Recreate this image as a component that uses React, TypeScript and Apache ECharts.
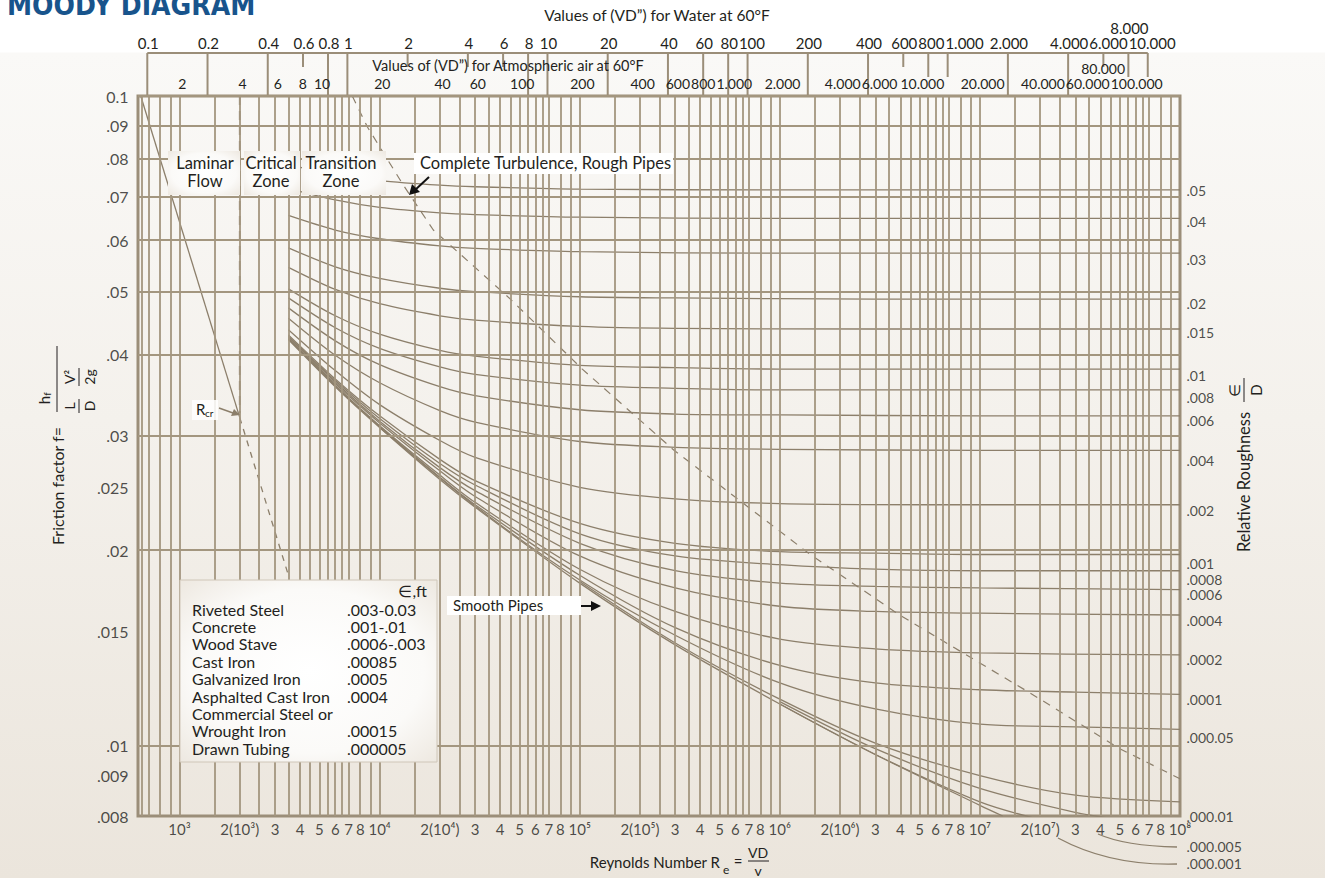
import React, { useEffect, useRef } from "react";
import * as echarts from "echarts";

// ---------- axis extents ----------
const RE_MIN = 620;
const RE_MAX = 1e8;
const F_MIN = 0.0078;
const F_MAX = 0.1;

// ---------- grid lines ----------
const xGridDecades = [100, 1e3, 1e4, 1e5, 1e6, 1e7];
const xGridMultipliers = [1, 1.5, 2, 2.5, 3, 3.5, 4, 4.5, 5, 5.5, 6, 6.5, 7, 8, 9];
const yGridValues = [
  0.095, 0.09, 0.085, 0.08, 0.075, 0.07, 0.065, 0.06, 0.058, 0.056, 0.054, 0.052, 0.05,
  0.048, 0.046, 0.044, 0.042, 0.04, 0.038, 0.036, 0.034, 0.032, 0.03, 0.029, 0.028, 0.027,
  0.026, 0.025, 0.024, 0.023, 0.022, 0.021, 0.02, 0.019, 0.018, 0.017, 0.016, 0.015, 0.014,
  0.013, 0.012, 0.011, 0.01, 0.0095, 0.009, 0.0085, 0.008,
];

// ---------- tick labels ----------
const yTickValues = [0.1, 0.09, 0.08, 0.07, 0.06, 0.05, 0.04, 0.03, 0.025, 0.02, 0.015, 0.01, 0.009, 0.0078];
const yTickLabels = ["0.1", ".09", ".08", ".07", ".06", ".05", ".04", ".03", ".025", ".02", ".015", ".01", ".009", ".008"];

const xTickValues = [
  1e3, 2e3, 3e3, 4e3, 5e3, 6e3, 7e3, 8e3,
  1e4, 2e4, 3e4, 4e4, 5e4, 6e4, 7e4, 8e4,
  1e5, 2e5, 3e5, 4e5, 5e5, 6e5, 7e5, 8e5,
  1e6, 2e6, 3e6, 4e6, 5e6, 6e6, 7e6, 8e6,
  1e7, 2e7, 3e7, 4e7, 5e7, 6e7, 7e7, 8e7, 1e8,
];
const xTickLabels = [
  "10³", "2(10³)", "3", "4", "5", "6", "7", "8",
  "10⁴", "2(10⁴)", "3", "4", "5", "6", "7", "8",
  "10⁵", "2(10⁵)", "3", "4", "5", "6", "7", "8",
  "10⁶", "2(10⁶)", "3", "4", "5", "6", "7", "8",
  "10⁷", "2(10⁷)", "3", "4", "5", "6", "7", "8", "10⁸",
];

const roughLabelValues = [
  0.0716, 0.0642, 0.0561, 0.048, 0.0433, 0.0372, 0.0344, 0.0317, 0.0275, 0.023,
  0.0191, 0.018, 0.0171, 0.0156, 0.0136, 0.0118, 0.0103, 0.0078, 0.007, 0.0066,
];
const roughLabels = [
  ".05", ".04", ".03", ".02", ".015", ".01", ".008", ".006", ".004", ".002",
  ".001", ".0008", ".0006", ".0004", ".0002", ".0001", ".000.05", ".000.01", ".000.005", ".000.001",
];

// ---------- top scales (VD") ----------
const WATER_RE_PER_VD = 6900;
const AIR_RE_PER_VD = 510;
const waterValues = [0.1, 0.2, 0.4, 0.6, 0.8, 1, 2, 4, 6, 8, 10, 20, 40, 60, 80, 100, 200, 400, 600, 800, 1000, 2000, 4000, 6000, 8000, 10000];
const waterLabels = ["0.1", "0.2", "0.4", "0.6", "0.8", "1", "2", "4", "6", "8", "10", "20", "40", "60", "80", "100", "200", "400", "600", "800", "1.000", "2.000", "4.000", "6.000", "8.000", "10.000"];
const waterShortTicks = [0.6, 2, 4, 6, 600, 6000];
const waterMidTicks = [800, 1000, 8000, 10000];
const airValues = [2, 4, 6, 8, 10, 20, 40, 60, 100, 200, 400, 600, 800, 1000, 2000, 4000, 6000, 10000, 20000, 40000, 60000, 80000, 100000];
const airLabels = ["2", "4", "6", "8", "10", "20", "40", "60", "100", "200", "400", "600", "800", "1.000", "2.000", "4.000", "6.000", "10.000", "20.000", "40.000", "60.000", "80.000", "100.000"];
const raisedLabels = ["8.000", "80.000"];

// ---------- curves: [Re, f] ----------
const laminarSolid = [[640, 0.1], [2000, 0.032]];
const laminarDashed = [[2000, 0.032], [3500, 0.0183]];
const criticalLine = [[2000, 0.1], [2000, 0.0325]];
const turbulenceBoundary = [
  [7300, 0.1], [8690, 0.0896], [13140, 0.0729], [18550, 0.0622], [4.5e4, 0.0487], [1.03e5, 0.038],
  [2.96e5, 0.0285], [1.42e6, 0.0197], [3.97e6, 0.0159], [1.83e7, 0.012], [5e7, 0.0099], [1e8, 0.0089],
];

const curve05 = [[3.5e3, 0.0784], [6e3, 0.0757], [1e4, 0.0741], [2e4, 0.0729], [3e4, 0.0725], [1e5, 0.0719], [1e6, 0.0717], [1e8, 0.0717]];
const curve04 = [[3.5e3, 0.0721], [6e3, 0.0692], [1e4, 0.0674], [2e4, 0.0661], [3e4, 0.0657], [1e5, 0.0651], [1e6, 0.0648], [1e8, 0.0648]];
const curve03 = [[3.5e3, 0.0655], [6e3, 0.0622], [1e4, 0.0603], [2e4, 0.0588], [3e4, 0.0583], [1e5, 0.0576], [1e6, 0.0573], [1e8, 0.0573]];
const curve02 = [[3.5e3, 0.0584], [6e3, 0.0546], [1e4, 0.0524], [2e4, 0.0506], [3e4, 0.05], [1e5, 0.0491], [3e5, 0.0489], [3e6, 0.0487], [1e8, 0.0487]];
const curve015 = [[3.5e3, 0.0545], [6e3, 0.0504], [1e4, 0.0479], [2e4, 0.0459], [3e4, 0.0452], [1e5, 0.0442], [3e5, 0.0439], [3e6, 0.0438], [1e8, 0.0438]];
const curve01 = [[3.5e3, 0.0505], [6e3, 0.0459], [1e4, 0.043], [2e4, 0.0406], [3e4, 0.0398], [1e5, 0.0385], [3e5, 0.0382], [1e6, 0.038], [1e7, 0.038], [1e8, 0.038]];
const curve008 = [[3.5e3, 0.0489], [6e3, 0.044], [1e4, 0.0409], [2e4, 0.0383], [3e4, 0.0373], [1e5, 0.0359], [3e5, 0.0355], [1e6, 0.0353], [1e7, 0.0353], [1e8, 0.0353]];
const curve006 = [[3.5e3, 0.0472], [6e3, 0.042], [1e4, 0.0386], [2e4, 0.0357], [3e4, 0.0346], [1e5, 0.0329], [3e5, 0.0324], [1e6, 0.0323], [1e7, 0.0322], [1e8, 0.0322]];
const curve004 = [[3.5e3, 0.0455], [6e3, 0.0399], [1e4, 0.0362], [2e4, 0.0328], [3e4, 0.0315], [1e5, 0.0294], [3e5, 0.0288], [1e6, 0.0286], [1e7, 0.0285], [1e8, 0.0285]];
const curve002 = [[3.5e3, 0.0437], [6e3, 0.0378], [1e4, 0.0335], [2e4, 0.0295], [3e4, 0.0278], [1e5, 0.025], [3e5, 0.024], [1e6, 0.0236], [1e7, 0.0235], [1e8, 0.0235]];
const curve001 = [[3.5e3, 0.0429], [6e3, 0.0367], [1e4, 0.0322], [2e4, 0.0276], [3e4, 0.0256], [1e5, 0.022], [3e5, 0.0205], [1e6, 0.0199], [3e6, 0.0198], [1e7, 0.0197], [1e8, 0.0197]];
const curve0008 = [[3.5e3, 0.0427], [6e3, 0.0365], [1e4, 0.0319], [2e4, 0.0272], [3e4, 0.0252], [1e5, 0.0212], [3e5, 0.0196], [1e6, 0.019], [3e6, 0.0187], [1e7, 0.0186], [1e8, 0.0186]];
const curve0006 = [[3.5e3, 0.0426], [6e3, 0.0363], [1e4, 0.0316], [2e4, 0.0268], [3e4, 0.0247], [1e5, 0.0205], [3e5, 0.0186], [1e6, 0.0178], [3e6, 0.0176], [1e7, 0.0175], [1e8, 0.0174]];
const curve0004 = [[3.5e3, 0.0424], [6e3, 0.0361], [1e4, 0.0314], [2e4, 0.0265], [3e4, 0.0242], [1e5, 0.0196], [3e5, 0.0175], [1e6, 0.0164], [3e6, 0.0161], [1e7, 0.016], [1e8, 0.0159]];
const curve0002 = [[3.5e3, 0.0423], [6e3, 0.0359], [1e4, 0.0311], [2e4, 0.0261], [3e4, 0.0237], [1e5, 0.0187], [3e5, 0.0161], [1e6, 0.0146], [3e6, 0.0141], [1e7, 0.0139], [1e8, 0.0138]];
const curve0001 = [[3.5e3, 0.0423], [6e3, 0.0358], [1e4, 0.031], [2e4, 0.0259], [3e4, 0.0235], [1e5, 0.0183], [3e5, 0.0152], [1e6, 0.0133], [3e6, 0.0125], [1e7, 0.0122], [3e7, 0.0121], [1e8, 0.012]];
const curve00005 = [[1e4, 0.0309], [3e4, 0.0234], [1e5, 0.018], [3e5, 0.0148], [1e6, 0.0125], [3e6, 0.0114], [1e7, 0.0108], [3e7, 0.0107], [1e8, 0.0106]];
const curve00001 = [[1e5, 0.0179], [3e5, 0.0144], [1e6, 0.0118], [3e6, 0.0101], [1e7, 0.009], [3e7, 0.0084], [1e8, 0.0082]];
const curve000005 = [[1e6, 0.0117], [3e6, 0.0099], [1e7, 0.0086], [3e7, 0.0079], [5e7, 0.0077]];
const curve000001 = [[1e6, 0.0116], [3e6, 0.0097], [1e7, 0.0082], [2e7, 0.0077]];
const smoothPipes = [[3.5e3, 0.0422], [6e3, 0.0357], [1e4, 0.0309], [2e4, 0.0257], [3e4, 0.0233], [1e5, 0.0178], [3e5, 0.0143], [1e6, 0.0116], [3e6, 0.0097], [1e7, 0.0081], [1.3e7, 0.0078]];

const roughCurves = [
  curve05, curve04, curve03, curve02, curve015, curve01, curve008, curve006, curve004, curve002,
  curve001, curve0008, curve0006, curve0004, curve0002, curve0001, curve00005, curve00001, curve000005, curve000001,
  smoothPipes,
];

// ---------- materials table ----------
const materialNames = ["Riveted Steel", "Concrete", "Wood Stave", "Cast Iron", "Galvanized Iron", "Asphalted Cast Iron", "Commercial Steel or", "Wrought Iron", "Drawn Tubing"];
const materialRoughness = [".003-0.03", ".001-.01", ".0006-.003", ".00085", ".0005", ".0004", "", ".00015", ".000005"];

const FONT = "Lato";
const TXT = "#231f20";
const GRIDC = "#a3967f";
const CURVEC = "#8c7f6b";

export default function App() {
  const ref = useRef<HTMLDivElement>(null);

  useEffect(() => {
    const el = ref.current!;
    const chart = echarts.init(el, null, { renderer: "svg" });

    const xGrid: number[] = [];
    xGridDecades.forEach((d) =>
      xGridMultipliers.forEach((m) => {
        const v = d * m;
        if (v > RE_MIN * 1.001 && v < RE_MAX * 0.999) xGrid.push(v);
      })
    );

    const labelSeries = (data: number[][], labels: string[], position: string, distance: number, extra: any = {}) => ({
      type: "scatter",
      data,
      symbolSize: 1,
      itemStyle: { color: "rgba(0,0,0,0)" },
      silent: true,
      clip: false,
      z: 6,
      label: {
        show: true,
        position,
        distance,
        formatter: (p: any) => labels[p.dataIndex],
        color: TXT,
        fontSize: 15,
        fontFamily: FONT,
        ...extra,
      },
    });

    const lineSeries = (data: number[][], style: any, smooth: any = false) => ({
      type: "line",
      data,
      smooth,
      symbol: "none",
      showSymbol: false,
      silent: true,
      z: 3,
      lineStyle: style,
    });

    const series: any[] = [
      {
        type: "line",
        data: [[RE_MIN, F_MIN]],
        symbol: "none",
        silent: true,
        z: 1,
        lineStyle: { width: 0 },
        markLine: {
          silent: true,
          symbol: ["none", "none"],
          label: { show: false },
          lineStyle: { color: GRIDC, width: 1.8, type: "solid" },
          emphasis: { disabled: true },
          data: [...xGrid.map((v) => ({ xAxis: v })), ...yGridValues.map((v) => ({ yAxis: v }))],
        },
      },
      ...roughCurves.map((c) => lineSeries(c, { color: CURVEC, width: 1.3 }, 0.3)),
      lineSeries(laminarSolid, { color: CURVEC, width: 1.3 }),
      lineSeries(laminarDashed, { color: CURVEC, width: 1.3, type: [6, 6] }),
      lineSeries(criticalLine, { color: CURVEC, width: 1.8, type: [9, 6] }),
      lineSeries(turbulenceBoundary, { color: CURVEC, width: 1.2, type: [8, 7] }),
      labelSeries(yTickValues.map((v) => [RE_MIN, v]), yTickLabels, "left", 9, { fontSize: 16 }),
      labelSeries(xTickValues.map((v) => [v, F_MIN]), xTickLabels, "bottom", 5),
      labelSeries(roughLabelValues.map((v) => [RE_MAX, v]), roughLabels, "right", 6, { fontSize: 14, lineHeight: 13 }),
    ];

    const base: any = {
      animation: false,
      grid: { left: 138, right: 145, top: 96, bottom: 62, show: true, borderColor: "#9b8e79", borderWidth: 3, backgroundColor: "transparent" },
      xAxis: { type: "log", logBase: 10, min: RE_MIN, max: RE_MAX, axisLine: { show: false }, axisTick: { show: false }, axisLabel: { show: false }, splitLine: { show: false } },
      yAxis: { type: "log", logBase: 10, min: F_MIN, max: F_MAX, axisLine: { show: false }, axisTick: { show: false }, axisLabel: { show: false }, splitLine: { show: false } },
      series,
    };
    chart.setOption(base);

    const px = (re: number) => chart.convertToPixel({ xAxisIndex: 0 }, re) as number;

    const canvas = document.createElement("canvas");
    const ctx = canvas.getContext("2d")!;
    const measure = (t: string, size: number) => {
      ctx.font = `${size}px ${FONT}`;
      return ctx.measureText(t).width;
    };

    const txt = (text: string, x: number, y: number, size = 15, align = "center", extra: any = {}) => ({
      type: "text",
      z: 20,
      silent: true,
      style: { text, x, y, fontSize: size, fontFamily: FONT, fill: TXT, align, textAlign: align, verticalAlign: "middle", textVerticalAlign: "middle", ...extra },
    });
    const seg = (x1: number, y1: number, x2: number, y2: number, color = "#9b8e79", w = 2) => ({
      type: "line",
      z: 20,
      silent: true,
      shape: { x1, y1, x2, y2 },
      style: { stroke: color, lineWidth: w },
    });
    const softFill = {
      type: "radial",
      x: 0.5,
      y: 0.5,
      r: 0.75,
      colorStops: [
        { offset: 0, color: "#ffffff" },
        { offset: 0.6, color: "#fbfaf8" },
        { offset: 1, color: "#ebe5dc" },
      ],
    };
    const box = (x: number, y: number, width: number, height: number, fill: any = softFill, stroke = "none") => ({
      type: "rect",
      z: 15,
      silent: true,
      shape: { x, y, width, height },
      style: { fill, stroke, lineWidth: 1 },
    });

    // place a row of scale labels left to right, nudging a label right when it would overlap its neighbour
    const labelRow = (values: number[], labels: string[], factor: number, y: number, raisedY: number, size: number, out: any[]) => {
      let prevRight = -Infinity;
      values.forEach((v, i) => {
        const lab = labels[i];
        let cx = px(v * factor) + 1;
        const w = measure(lab, size);
        if (raisedLabels.includes(lab)) {
          out.push(txt(lab, cx, raisedY, size, "center", { lineHeight: 12 }));
          return;
        }
        if (cx - w / 2 < prevRight + 1) cx = prevRight + 1 + w / 2;
        prevRight = cx + w / 2;
        out.push(txt(lab, cx, y, size, "center", { lineHeight: 12 }));
      });
    };

    const g: any[] = [];

    // title
    g.push(txt("MOODY DIAGRAM", 7, 5, 28, "left", { fontFamily: "DejaVu Sans Condensed", fontWeight: "bold", fill: "#18548c" }));

    // top scales
    g.push(txt("Values of (VD”) for Water at 60°F", 657, 15, 15.5));
    const wx0 = px(waterValues[0] * WATER_RE_PER_VD);
    const wx1 = px(waterValues[waterValues.length - 1] * WATER_RE_PER_VD);
    g.push(seg(wx0, 53, wx1, 53));
    waterValues.forEach((v) => {
      const x = px(v * WATER_RE_PER_VD);
      const yEnd = waterShortTicks.includes(v) ? 67 : waterMidTicks.includes(v) ? 77 : 95;
      g.push(seg(x, 53, x, yEnd));
    });
    labelRow(waterValues, waterLabels, WATER_RE_PER_VD, 43, 28, 15, g);
    g.push(txt("Values of (VD”) for Atmospheric air at 60°F", 508, 65, 14.5, "center", { lineHeight: 14 }));
    labelRow(airValues, airLabels, AIR_RE_PER_VD, 83, 68, 14, g);

    // zone labels
    g.push(box(168, 151, 72, 44));
    g.push(txt("Laminar", 205, 163, 16.5));
    g.push(txt("Flow", 205, 181, 16.5));
    g.push(box(244, 151, 56, 44));
    g.push(txt("Critical", 271, 163, 16.5));
    g.push(txt("Zone", 271, 181, 16.5));
    g.push(box(302, 151, 84, 44));
    g.push(txt("Transition", 341, 163, 16.5));
    g.push(txt("Zone", 341, 181, 16.5));
    g.push(box(414, 153, 259, 21, "#ffffff"));
    g.push(txt("Complete Turbulence, Rough Pipes", 420, 163, 16.5, "left"));
    g.push(seg(429, 177, 414, 191, "#111", 2));
    g.push({ type: "polygon", z: 21, silent: true, shape: { points: [[409, 195], [412, 184], [420, 192]] }, style: { fill: "#111" } });

    // smooth pipes label
    g.push(box(447, 596, 134, 19, "#ffffff"));
    g.push(txt("Smooth Pipes", 453, 605, 15, "left"));
    g.push(seg(581, 606, 594, 606, "#111", 2));
    g.push({ type: "polygon", z: 21, silent: true, shape: { points: [[601, 606], [591, 601], [591, 611]] }, style: { fill: "#111" } });

    // Rcr label
    g.push(box(192, 400, 26, 20, "rgba(255,255,255,0.85)"));
    g.push(txt("R", 196, 409, 15, "left"));
    g.push(txt("cr", 205, 413, 10, "left"));
    g.push(seg(219, 408, 233, 413, "#8c7f6b", 1.5));
    g.push({ type: "polygon", z: 21, silent: true, shape: { points: [[240, 415], [231, 416], [234, 409]] }, style: { fill: "#8c7f6b" } });

    // materials table
    g.push(box(180, 580, 257, 182, softFill, "#cfc6b8"));
    g.push(txt("∈,ft", 427, 590, 16, "right"));
    materialNames.forEach((n, i) => {
      const y = 609 + i * 17.4;
      g.push(txt(n, 192, y, 16, "left", { lineHeight: 16 }));
      if (materialRoughness[i]) g.push(txt(materialRoughness[i], 347, y, 16, "left", { lineHeight: 16 }));
    });

    // leader lines for tiny roughness labels
    g.push({ type: "bezierCurve", z: 20, silent: true, shape: { x1: 1098, y1: 834, cpx1: 1125, cpy1: 846, x2: 1177, y2: 847 }, style: { stroke: CURVEC, lineWidth: 1.3, fill: "none" } });
    g.push({ type: "bezierCurve", z: 20, silent: true, shape: { x1: 1058, y1: 838, cpx1: 1110, cpy1: 866, x2: 1177, y2: 864 }, style: { stroke: CURVEC, lineWidth: 1.3, fill: "none" } });

    // bottom axis title
    g.push(txt("Reynolds Number R", 720, 862, 15, "right"));
    g.push(txt("e", 723, 869, 12, "left"));
    g.push(txt("=", 738, 861, 15));
    g.push(txt("VD", 758, 852, 14));
    g.push(seg(748, 861, 769, 861, TXT, 1));
    g.push(txt("v", 758, 870, 14));

    // left axis title (rotated)
    g.push({
      type: "group",
      x: 57,
      y: 486,
      rotation: Math.PI / 2,
      children: [
        txt("Friction factor f=", 0, 0, 16),
        txt("h", 86, -13, 15),
        txt("f", 92, -10, 10),
        seg(74, 0, 140, 0, TXT, 1),
        txt("L", 80, 12, 14),
        seg(73, 22, 87, 22, TXT, 1),
        txt("D", 80, 32, 14),
        txt("V²", 109, 12, 14),
        seg(100, 22, 118, 22, TXT, 1),
        txt("2g", 109, 32, 14),
      ],
    });

    // right axis title (rotated)
    g.push({
      type: "group",
      x: 1244,
      y: 482,
      rotation: Math.PI / 2,
      children: [
        txt("Relative Roughness", 0, 0, 16.5),
        txt("∈", 92, -10, 15),
        seg(80, 0, 104, 0, TXT, 1),
        txt("D", 92, 12, 15),
      ],
    });

    chart.setOption({ graphic: { elements: g } });

    return () => chart.dispose();
  }, []);

  return (
    <div
      ref={ref}
      style={{
        position: "fixed",
        left: 0,
        top: 0,
        width: 1325,
        height: 878,
        background: "linear-gradient(to bottom, #ffffff 0px, #ffffff 52px, #faf9f7 53px, #f4f1ec 420px, #ebe5dc 878px)",
      }}
    />
  );
}
